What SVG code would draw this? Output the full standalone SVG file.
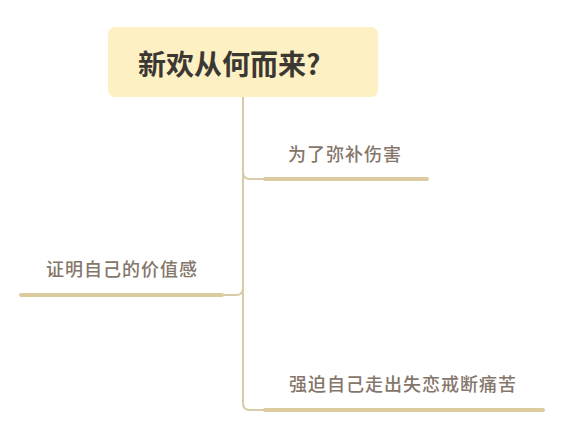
<svg xmlns="http://www.w3.org/2000/svg" width="569" height="448" viewBox="0 0 569 448">
<style>
.thin{fill:none;stroke:#d8cba8;stroke-width:2;stroke-linecap:round}
.under{fill:none;stroke:#dccb9e;stroke-width:4;stroke-linecap:round}
.lbl{font-family:"Noto Sans CJK SC","Noto Sans",sans-serif;font-size:18px;font-weight:500;fill:#85766b;letter-spacing:1px}
.title{font-family:"Noto Sans CJK SC","Noto Sans",sans-serif;font-size:28px;font-weight:bold;fill:#3b3833}
</style>
<rect width="569" height="448" fill="#ffffff"/>
<g id="connectors">
<path class="thin" d="M243,97 V172 Q243,179 250,179 H265"/>
<path class="thin" d="M243,97 V288 Q243,295 236,295 H222"/>
<path class="thin" d="M243,97 V403 Q243,410 250,410 H265"/>
</g>
<g id="root">
<rect x="108" y="27" width="270" height="70" rx="7" fill="#fdf0c2"/>
<text class="title" x="138" y="75">新欢从何而来?</text>
</g>
<g id="n1">
<text class="lbl" x="288" y="161">为了弥补伤害</text>
<line class="under" x1="265" y1="179" x2="427" y2="179"/>
</g>
<g id="n2">
<text class="lbl" x="46" y="276">证明自己的价值感</text>
<line class="under" x1="21" y1="295" x2="222" y2="295"/>
</g>
<g id="n3">
<text class="lbl" x="289" y="391">强迫自己走出失恋戒断痛苦</text>
<line class="under" x1="265" y1="410" x2="543" y2="410"/>
</g>
</svg>
